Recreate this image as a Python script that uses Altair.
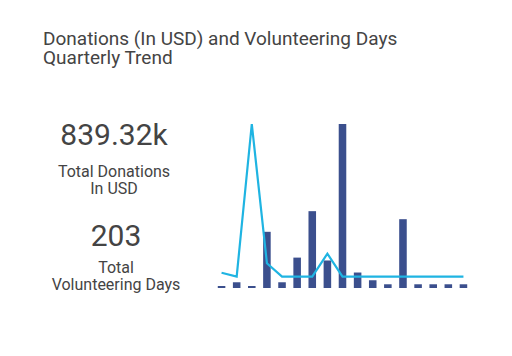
import altair as alt
import pandas as pd

quarters = ["2019 Q1", "2019 Q2", "2019 Q3", "2019 Q4", "2020 Q1", "2020 Q2", "2020 Q3", "2020 Q4",
            "2021 Q1", "2021 Q2", "2021 Q3", "2021 Q4", "2022 Q1", "2022 Q2", "2022 Q3", "2022 Q4",
            "2023 Q1"]
donations_k = [3.5, 10, 3.5, 98, 10, 53, 134, 48, 286, 27, 13.5, 6.5, 120, 6.5, 6.5, 6.5, 6.5]
volunteer_days = [8, 6, 86, 13, 6, 6, 6, 18, 6, 6, 6, 6, 6, 6, 6, 6, 6]

title_lines = ["Donations (In USD) and Volunteering Days\nQuarterly Trend"]
kpi_values = ["839.32k", "203"]
kpi_labels = ["Total Donations\nIn USD", "Total\nVolunteering Days"]

df = pd.DataFrame({"quarter": quarters, "donations": donations_k, "days": volunteer_days})

x = alt.X("quarter:N", sort=quarters, axis=None,
          scale=alt.Scale(paddingInner=0.5, paddingOuter=0.25))

bars = alt.Chart(df).mark_bar(color="#3b4f8d").encode(
    x=x,
    y=alt.Y("donations:Q", axis=None, scale=alt.Scale(domain=[0, max(donations_k)], nice=False)),
)
line = alt.Chart(df).mark_line(color="#1fb4e2", strokeWidth=2.2).encode(
    x=x,
    y=alt.Y("days:Q", axis=None, scale=alt.Scale(domain=[0, max(volunteer_days)], nice=False)),
)

kpi_df = pd.DataFrame({"value": kpi_values, "label": kpi_labels, "row": [0, 1]})
title_df = pd.DataFrame({"title": title_lines})
txt_color = "#444444"

title = alt.Chart(title_df).mark_text(
    font="Roboto", fontSize=19, color=txt_color, align="left", baseline="alphabetic",
    lineBreak="\n", lineHeight=19.5
).encode(text="title:N", x=alt.value(-171), y=alt.value(-79.5))

val1 = alt.Chart(kpi_df[kpi_df.row == 0]).mark_text(
    font="Roboto", fontSize=30, color=txt_color, align="center", baseline="alphabetic"
).encode(text="value:N", x=alt.value(-100), y=alt.value(21))
lab1 = alt.Chart(kpi_df[kpi_df.row == 0]).mark_text(
    font="Roboto", fontSize=16, color=txt_color, align="center", baseline="alphabetic",
    lineBreak="\n", lineHeight=17
).encode(text="label:N", x=alt.value(-100), y=alt.value(52.5))
val2 = alt.Chart(kpi_df[kpi_df.row == 1]).mark_text(
    font="Roboto", fontSize=30, color=txt_color, align="center", baseline="alphabetic"
).encode(text="value:N", x=alt.value(-98), y=alt.value(122))
lab2 = alt.Chart(kpi_df[kpi_df.row == 1]).mark_text(
    font="Roboto", fontSize=16, color=txt_color, align="center", baseline="alphabetic",
    lineBreak="\n", lineHeight=17
).encode(text="label:N", x=alt.value(-98), y=alt.value(148.5))

chart = alt.layer(bars, line, title, val1, lab1, val2, lab2).resolve_scale(y="independent").properties(
    width=257,
    height=164,
    padding={"left": 206, "top": 116, "right": 25, "bottom": 52},
    autosize=alt.AutoSizeParams(type="none"),
).configure_view(stroke=None)

chart.save("out.html", embed_options={"renderer": "svg", "actions": False})
